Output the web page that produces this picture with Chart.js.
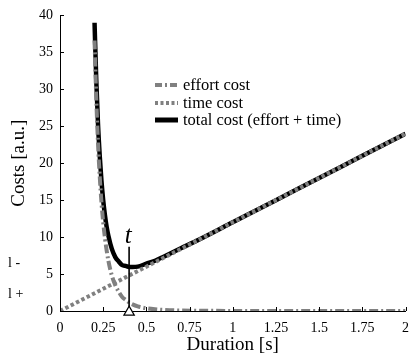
<!DOCTYPE html>
<html>
<head>
<meta charset="utf-8">
<script src="https://cdn.jsdelivr.net/npm/chart.js@4"></script>
<style>
  html, body { margin: 0; padding: 0; background: #fff; }
  #wrap { width: 418px; height: 356px; position: relative; }
  .probe { font-family: "Liberation Serif"; position: absolute; left: -999px; }
</style>
</head>
<body>
<span class="probe">Costs</span><span class="probe" style="font-style:italic">t</span>
<div id="wrap"><canvas id="myChart"></canvas></div>
<script>
// durations [s] and costs
const durations = [0.2, 0.21, 0.22, 0.23, 0.24, 0.25, 0.26, 0.27, 0.28, 0.3, 0.32, 0.34, 0.36, 0.38,
                   0.4, 0.42, 0.45, 0.5, 0.55, 0.6, 0.7, 0.8, 1.0, 1.25, 1.5, 1.75, 2.0];
const effortCost = [36.6, 28.7, 22.7, 18.2, 14.7, 12.0, 9.9, 8.2, 6.8, 4.8, 3.5, 2.6, 1.9, 1.5,
                    1.15, 0.9, 0.63, 0.37, 0.23, 0.15, 0.07, 0.04, 0.01, 0, 0, 0, 0];
const totalCost = [39.0, 31.2, 25.3, 21.0, 17.6, 15.0, 13.0, 11.4, 10.2, 8.4, 7.3, 6.7, 6.2, 6.1,
                   5.95, 5.95, 6.0, 6.4, 6.8, 7.35, 8.5, 9.6, 12.0, 15.0, 18.0, 21.0, 24.0];
const timeDurations = [0, 0.5, 1.0, 1.5, 2.0];
const timeCost = [0, 6, 12, 18, 24];

// optimal duration marker
const optDuration = 0.4;
const optLineTop = 8.7;

const xTickLabels = ['0', '0.25', '0.5', '0.75', '1', '1.25', '1.5', '1.75', '2'];
const yTickLabels = ['0', '5', '10', '15', '20', '25', '30', '35', '40'];

const seriesNames = ['effort cost', 'time cost', 'total cost (effort + time)'];
const sideLabels = ['l -', 'l +'];

const GREY = '#808080';
const SERIF = '"Liberation Serif", "Times New Roman", Times, serif';

function pts(xs, ys) {
    return xs.map((x, i) => ({ x: x, y: ys[i] }));
}

const legendStyles = [
    { color: GREY, dash: [7, 3, 2, 3], width: 4 },
    { color: GREY, dash: [3, 2.5], width: 4 },
    { color: '#000', dash: [], width: 5 }
];

// inward ticks, legend and extra text
const extras = {
    id: 'extras',
    afterDraw(chart) {
        const ctx = chart.ctx;
        const xs = chart.scales.x, ys = chart.scales.y;
        ctx.save();
        ctx.strokeStyle = '#000';
        ctx.lineWidth = 1;
        ctx.beginPath();
        xTickLabels.forEach((l, i) => {
            const px = Math.round(xs.getPixelForValue(i * 0.25)) + 0.5;
            ctx.moveTo(px, ys.bottom);
            ctx.lineTo(px, ys.bottom - 4);
        });
        yTickLabels.forEach((l, i) => {
            const py = Math.round(ys.getPixelForValue(i * 5)) + 0.5;
            ctx.moveTo(xs.left, py);
            ctx.lineTo(xs.left + 4, py);
        });
        ctx.stroke();

        // legend
        const rows = [85, 103, 120];
        ctx.font = '16.5px ' + SERIF;
        ctx.fillStyle = '#000';
        ctx.textBaseline = 'middle';
        seriesNames.forEach((name, i) => {
            const s = legendStyles[i];
            ctx.beginPath();
            ctx.strokeStyle = s.color;
            ctx.lineWidth = s.width;
            ctx.setLineDash(s.dash);
            ctx.moveTo(155, rows[i]);
            ctx.lineTo(178, rows[i]);
            ctx.stroke();
            ctx.setLineDash([]);
            ctx.fillText(name, 183, rows[i] + 1);
        });

        // t label
        ctx.font = 'italic 25px ' + SERIF;
        ctx.textAlign = 'center';
        ctx.fillText('t', xs.getPixelForValue(optDuration) - 1, 236);

        // side labels
        ctx.font = '14px ' + SERIF;
        ctx.textAlign = 'left';
        ctx.fillText(sideLabels[0], 8, 263);
        ctx.fillText(sideLabels[1], 8, 294);
        ctx.restore();
    }
};

function makeChart() {
    const ctx = document.getElementById('myChart').getContext('2d');
    return new Chart(ctx, {
        type: 'line',
        data: {
            datasets: [
                {
                    label: 'marker',
                    data: [{ x: optDuration, y: -0.15 }],
                    showLine: false,
                    pointStyle: 'triangle',
                    pointRadius: 6,
                    pointBackgroundColor: '#fff',
                    pointBorderColor: '#000',
                    pointBorderWidth: 1.2,
                    clip: false
                },
                {
                    label: 'opt',
                    data: [{ x: optDuration, y: 0 }, { x: optDuration, y: optLineTop }],
                    borderColor: '#000',
                    borderWidth: 1.6,
                    pointRadius: 0
                },
                {
                    label: seriesNames[0],
                    data: pts(durations, effortCost),
                    borderColor: GREY,
                    borderWidth: 4,
                    borderDash: [9, 3, 2, 3],
                    pointRadius: 0,
                    cubicInterpolationMode: 'monotone'
                },
                {
                    label: seriesNames[1],
                    data: pts(timeDurations, timeCost),
                    borderColor: GREY,
                    borderWidth: 4,
                    borderDash: [3.5, 2.5],
                    borderCapStyle: 'butt',
                    pointRadius: 0
                },
                {
                    label: seriesNames[2],
                    data: pts(durations, totalCost),
                    borderColor: '#000',
                    borderWidth: 4.5,
                    pointRadius: 0,
                    cubicInterpolationMode: 'monotone'
                }
            ]
        },
        options: {
            responsive: true,
            maintainAspectRatio: false,
            animation: false,
            layout: { padding: { top: 15, right: 4, left: 0, bottom: 0 } },
            plugins: {
                legend: { display: false },
                tooltip: { enabled: false }
            },
            scales: {
                x: {
                    type: 'linear',
                    min: 0,
                    max: 2,
                    afterFit(scale) { scale.height = 45; },
                    grid: { display: false, drawTicks: false },
                    border: { display: true, color: '#000', width: 1 },
                    ticks: {
                        stepSize: 0.25,
                        padding: 9,
                        color: '#000',
                        font: { family: SERIF, size: 14 },
                        maxRotation: 0,
                        autoSkip: false,
                        callback: (v, i) => xTickLabels[i]
                    },
                    title: {
                        display: true,
                        text: 'Duration [s]',
                        color: '#000',
                        font: { family: SERIF, size: 19 },
                        padding: { top: 0, bottom: 0 }
                    }
                },
                y: {
                    min: 0,
                    max: 40,
                    afterFit(scale) { scale.width = 60; },
                    grid: { display: false, drawTicks: false },
                    border: { display: true, color: '#000', width: 1 },
                    ticks: {
                        stepSize: 5,
                        padding: 7,
                        color: '#000',
                        font: { family: SERIF, size: 14 },
                        callback: (v, i) => yTickLabels[i]
                    },
                    title: {
                        display: true,
                        text: 'Costs [a.u.]',
                        color: '#000',
                        font: { family: SERIF, size: 19 },
                        padding: { top: 8, bottom: 0 }
                    }
                }
            }
        },
        plugins: [extras]
    });
}

Promise.all([
    document.fonts.load('16px "Liberation Serif"'),
    document.fonts.load('italic 25px "Liberation Serif"')
]).catch(() => {}).then(makeChart);
</script>
</body>
</html>
